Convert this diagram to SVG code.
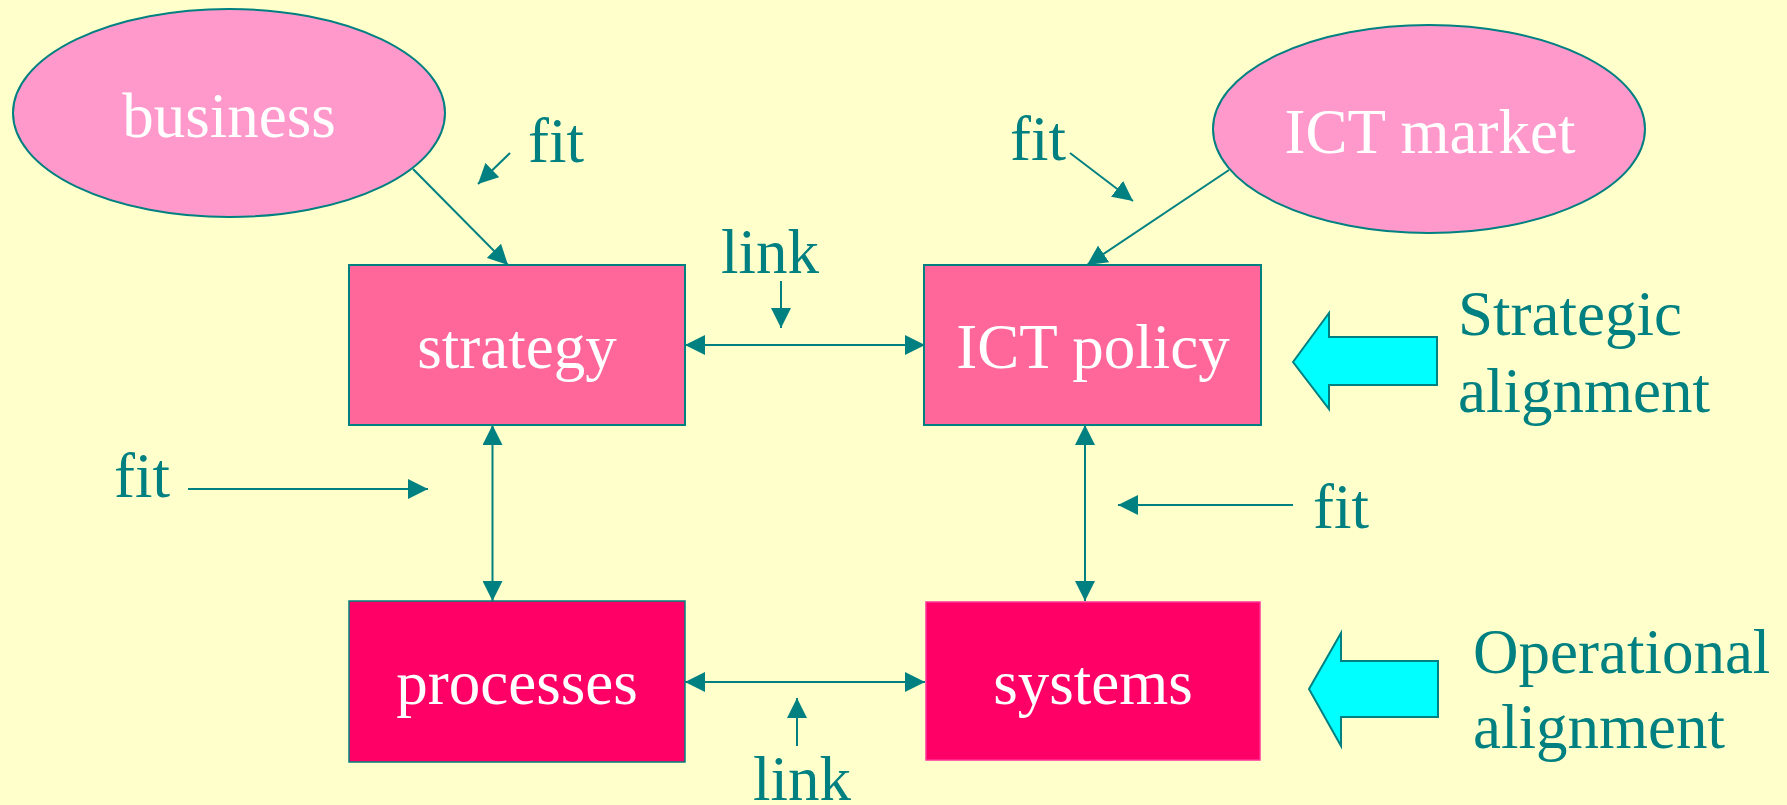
<svg xmlns="http://www.w3.org/2000/svg" width="1787" height="805" viewBox="0 0 1787 805">
<style>
text{font-family:"Liberation Serif","Times New Roman",serif;font-size:63px}
.w{fill:#FFFFFF;text-anchor:middle}
.t{fill:#008080}
.ell{fill:#FF99CC;stroke:#008080;stroke-width:2}
.box1{fill:#FF6699;stroke:#008080;stroke-width:2}
.box2{fill:#FF0066;stroke:#008080;stroke-width:1.5}
.box3{fill:#FF0066;stroke:#FF3399;stroke-width:1.5}
.ln{stroke:#008080;stroke-width:2;fill:none}
.a1{marker-end:url(#ah)}
.a2{marker-end:url(#ah);marker-start:url(#ah)}
.big{fill:#00FFFF;stroke:#008080;stroke-width:2}
</style>
<defs>
<marker id="ah" markerUnits="userSpaceOnUse" markerWidth="20" markerHeight="20" refX="20" refY="10" orient="auto-start-reverse" viewBox="0 0 20 20">
<path d="M0,0 L20,10 L0,20 z" fill="#008080"/>
</marker>
</defs>
<rect width="1787" height="805" fill="#FFFFCC"/>
<g id="connectors">
<line class="ln a1" x1="413" y1="169" x2="508" y2="265"/>
<line class="ln a1" x1="510" y1="153" x2="478" y2="184"/>
<line class="ln a1" x1="1229" y1="170" x2="1087" y2="265"/>
<line class="ln a1" x1="1070" y1="153" x2="1133" y2="201"/>
<line class="ln a1" x1="781" y1="281" x2="781" y2="328"/>
<line class="ln a2" x1="685" y1="345" x2="925" y2="345"/>
<line class="ln a2" x1="492.5" y1="425" x2="492.5" y2="601"/>
<line class="ln a1" x1="188" y1="489" x2="428" y2="489"/>
<line class="ln a2" x1="1085" y1="425" x2="1085" y2="601"/>
<line class="ln a1" x1="1293" y1="505" x2="1118" y2="505"/>
<line class="ln a2" x1="685" y1="682" x2="925" y2="682"/>
<line class="ln a1" x1="797" y1="746" x2="797" y2="698"/>
</g>
<g id="business">
<ellipse class="ell" cx="229" cy="113" rx="216" ry="104"/>
<text class="w" x="229" y="137">business</text>
</g>
<g id="ict-market">
<ellipse class="ell" cx="1429" cy="129" rx="216" ry="104"/>
<text class="w" x="1430" y="153">ICT market</text>
</g>
<g id="strategy">
<rect class="box1" x="349" y="265" width="336" height="160"/>
<text class="w" x="517" y="368">strategy</text>
</g>
<g id="ict-policy">
<rect class="box1" x="924" y="265" width="337" height="160"/>
<text class="w" x="1093" y="368">ICT policy</text>
</g>
<g id="processes">
<rect class="box2" x="349" y="601" width="336" height="161"/>
<text class="w" x="517" y="704">processes</text>
</g>
<g id="systems">
<rect class="box3" x="926" y="602" width="334" height="158"/>
<text class="w" x="1093" y="704">systems</text>
</g>
<g id="labels">
<text class="t" x="528" y="162">fit</text>
<text class="t" x="1010" y="160">fit</text>
<text class="t" x="721" y="273">link</text>
<text class="t" x="114" y="497">fit</text>
<text class="t" x="1313" y="528">fit</text>
<text class="t" x="753" y="800">link</text>
</g>
<g id="strategic-alignment">
<polygon class="big" points="1293,362 1329,313 1329,337 1437,337 1437,385 1329,385 1329,409"/>
<text class="t" x="1458" y="335">Strategic</text>
<text class="t" x="1458" y="412">alignment</text>
</g>
<g id="operational-alignment">
<polygon class="big" points="1309,689 1341,633 1341,661 1438,661 1438,717 1341,717 1341,746"/>
<text class="t" x="1473" y="673">Operational</text>
<text class="t" x="1473" y="748">alignment</text>
</g>
</svg>
